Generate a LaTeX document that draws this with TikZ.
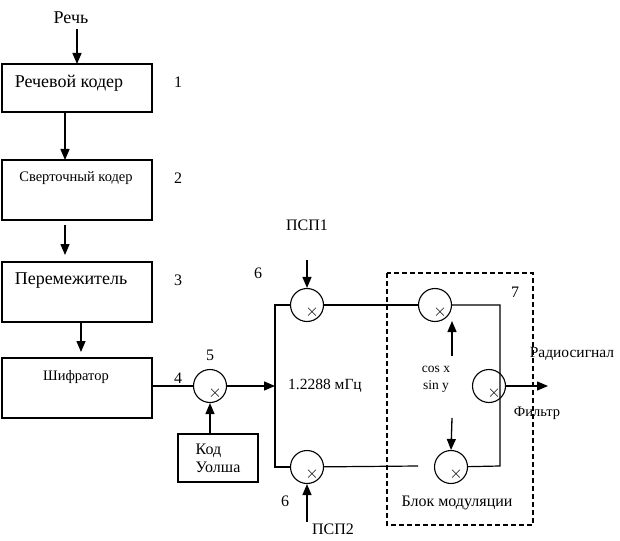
\documentclass[tikz,border=0pt]{standalone}
\usepackage{fontspec}
\setmainfont{Liberation Serif}
\usetikzlibrary{arrows.meta}
\tikzset{block/.style={draw,rectangle,line width=1.2pt,minimum width=150pt,minimum height=48pt,anchor=north west,inner sep=0pt,outer sep=0pt},
         tall/.style={block,minimum height=60pt},
         mixer/.style={draw,circle,line width=1.1pt,minimum size=33pt,inner sep=0pt,
           path picture={\node[font=\fontsize{16}{16}\selectfont] at ([xshift=5pt,yshift=-7pt]path picture bounding box.center) {$\times$};}},
         arr/.style={line width=1.3pt,-{Triangle[length=11pt,width=9pt]}},
         txt/.style={font=\fontsize{18}{20}\selectfont,inner sep=1pt},
         mid/.style={font=\fontsize{16}{18}\selectfont,inner sep=1pt},
         small/.style={font=\fontsize{14.5}{17}\selectfont,inner sep=1pt},
         wire/.style={line width=1.2pt}}

\begin{document}
\begin{tikzpicture}[x=1pt,y=-1pt]
\useasboundingbox (0,0) rectangle (620,540);
% left column
\node[txt] (speech) at (71,18) {Речь};
\node[block] (b1) at (2,64) {};
\node[tall] (b2) at (2,160) {};
\node[tall] (b3) at (2,262) {};
\node[tall] (b4) at (2,358) {};
\node[txt] (t1) at (69,83) {Речевой кодер};
\node[small] (t2) at (76,178) {Сверточный кодер};
\node[txt] (t3) at (71,281) {Перемежитель};
\node[small] (t4) at (76,377) {Шифратор};
\node[mid] (n1) at (178,82) {1};
\node[mid] (n2) at (178,178) {2};
\node[mid] (n3) at (178,280) {3};
\node[mid] (n4) at (178,378) {4};
\draw[arr] (b1.north |- speech.south) ++(0,4) -- (b1.north);
\draw[arr] ([xshift=-12pt]b1.south) -- ([xshift=-12pt]b2.north);
\draw[arr] ([xshift=-12pt,yshift=-5pt]b2.south) -- ([xshift=-12pt,yshift=3pt]b3.south |- 0,258);
\draw[arr] ([xshift=4pt]b3.south) -- ([xshift=4pt,yshift=6pt]b4.north);
% walsh spreading
\node[mixer] (m5) at (210,386) {};
\node[mid] (n5) at (210,355) {5};
\node[draw,line width=1.2pt,minimum width=80pt,minimum height=48pt,align=left,mid,inner sep=0pt] (walsh) at (218,458) {Код\\Уолша};
\coordinate (split) at (275,386);
\draw[wire] (b4.east |- m5) -- (m5);
\draw[arr] (m5) -- (split);
\draw[arr] (walsh.north -| m5) -- (m5);
% pn spreading
\node[mixer] (m6a) at (307,305) {};
\node[mixer] (m6b) at (307,467) {};
\node[mid] (n6a) at (258,273) {6};
\node[mid] (n6b) at (285,501) {6};
\node[mid] (psp1) at (307,225) {ПСП1};
\node[mid] (psp2) at (333,529) {ПСП2};
\node[small,font=\fontsize{15.5}{18}\selectfont] (freq) at (325,386) {1.2288 мГц};
\draw[wire] (m6a) -| (split) |- (m6b);
\draw[arr] (m6a.north) ++(0,-28) -- (m6a.north);
\draw[arr] (m6b.south) ++(0,38) -- (m6b.south);
% modulation block
\node[mixer] (m7a) at (435,305) {};
\node[mixer] (m7b) at (451,467) {};
\node[mixer] (mf) at (489,386) {};
\coordinate (rt) at (500,305);
\coordinate (rb) at (500,466);
\coordinate (gap) at (418,466);
\coordinate (out) at (548,386);
\draw[wire] (m6a) -- (m7a);
\draw[wire] (m6b) -- (gap);
\draw[wire] (m7a) -- (rt) -- (rb) -- (m7b);
\draw[arr] (mf.east) -- (out);
\node[font=\fontsize{13.5}{17}\selectfont,inner sep=1pt,align=center] (cs) at (436,379) {cos x\\sin y};
\draw[arr] (452,356) -- (452,321);
\draw[arr] (452,418) -- (m7b.north);
\draw[line width=1.1pt,dash pattern=on 5pt off 3pt] (387,273) rectangle (533,525);
\node[mid] (n7) at (515,292) {7};
\node[small,font=\fontsize{15.5}{18}\selectfont] (radio) at (572,354) {Радиосигнал};
\node[small] (filt) at (537,413) {Фильтр};
\node[mid] (mod) at (457,503) {Блок модуляции};
\end{tikzpicture}
\end{document}
